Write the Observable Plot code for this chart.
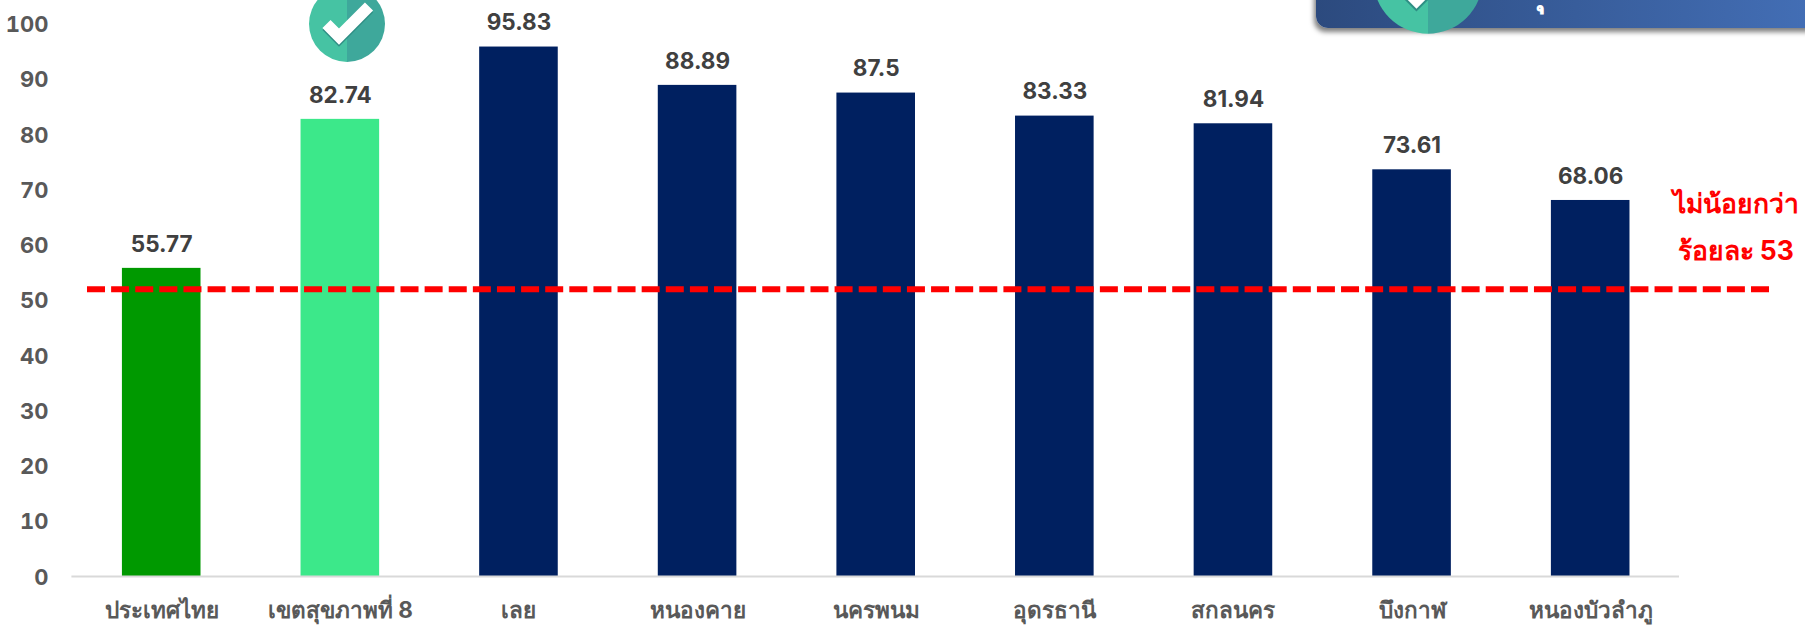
<!DOCTYPE html>
<html><head><meta charset="utf-8">
<script src="https://cdn.jsdelivr.net/npm/d3@7"></script>
<script src="https://cdn.jsdelivr.net/npm/@observablehq/plot@0.6"></script>
<style>
html,body{margin:0;padding:0;background:#fff;overflow:hidden}
#wrap{position:relative;width:1805px;height:635px;overflow:hidden}
#wrap svg{display:block}
#banner{position:absolute;left:1316px;top:-40px;width:520px;height:68px;border-radius:12px;background:linear-gradient(90deg,#2c4a7e,#4470b8);box-shadow:-2px 4px 5px rgba(0,0,0,.5)}
.font{font-family:Inter,"Noto Sans",sans-serif}
</style></head><body>
<div id="wrap" class="font"></div>
<script>
const categories = ["ประเทศไทย","เขตสุขภาพที่ 8","เลย","หนองคาย","นครพนม","อุดรธานี","สกลนคร","บึงกาฬ","หนองบัวลำภู"];
const values = [55.77,82.74,95.83,88.89,87.5,83.33,81.94,73.61,68.06];
const barColors = ["#009900","#3ce88a","#002060","#002060","#002060","#002060","#002060","#002060","#002060"];
const target = 52;
const noteLines = [{text:"ไม่น้อยกว่า",y:67.3},{text:"ร้อยละ 53",y:58.8}];
const table = categories.map((c,i)=>({c,v:values[i],color:barColors[i]}));
const font = 'Inter,"Noto Sans",sans-serif';
const chart = Plot.plot({
  width:1805,height:635,
  marginLeft:87,marginRight:36,marginTop:23.5,marginBottom:59,
  style:{fontFamily:font,background:"#fff",overflow:"hidden"},
  x:{domain:categories,range:[71.9,1679.5],paddingInner:0.56,paddingOuter:0.28,align:0.5,round:false,label:null},
  y:{domain:[0,100],label:null},
  marks:[
    Plot.barY(table,{x:"c",y:"v",fill:"color"}),
    Plot.ruleY([0],{stroke:"#d9d9d9",strokeWidth:2,insetLeft:-15.6,insetRight:90}),
    Plot.ruleY([target],{stroke:"#ff0000",strokeWidth:6,strokeDasharray:"18,6.116"}),
    Plot.text(table,{x:"c",y:"v",text:d=>String(d.v),dy:-24,fontSize:22.5,fontWeight:700,fill:"#404040"}),
    Plot.axisY({ticks:d3.range(0,101,10),tickSize:0,tickPadding:0,anchor:"left",dx:-39,dy:1,label:null,fontSize:22,fontWeight:700,fill:"#595959"}),
    Plot.axisX({tickSize:0,tickPadding:0,label:null,dy:26,fontSize:22.5,fontWeight:700,fill:"#595959"}),
    Plot.text(noteLines,{x:()=>categories[8],y:"y",text:"text",dx:145,fontSize:26.5,fontWeight:700,fill:"#ff0000"})
  ]
});
const wrap=document.getElementById("wrap");
wrap.appendChild(chart);
const banner=document.createElement("div");banner.id="banner";wrap.appendChild(banner);
function badge(cx,cy,r){
  const s=r/38;
  const check=`M${cx-20.5*s},${cy}L${cx-8*s},${cy+12.5*s}L${cx+22*s},${cy-17.5*s}`;
  return `<svg xmlns="http://www.w3.org/2000/svg" width="1805" height="635" style="position:absolute;left:0;top:0;pointer-events:none">
  <path d="M${cx},${cy-r}A${r},${r} 0 0 0 ${cx},${cy+r}Z" fill="#46c3a3"/>
  <path d="M${cx},${cy-r}A${r},${r} 0 0 1 ${cx},${cy+r}Z" fill="#3ea89b"/>
  <path d="${check}" transform="translate(0,${2*s})" fill="none" stroke="#2f8f85" stroke-width="${11.5*s}"/>
  <path d="${check}" fill="none" stroke="#fff" stroke-width="${11.5*s}"/></svg>`;
}
wrap.insertAdjacentHTML("beforeend",badge(347,24,38));
wrap.insertAdjacentHTML("beforeend",badge(1428,-21,54.7));
const mark=document.createElement("div");
mark.textContent="\u00a0ุ";
mark.style.cssText="position:absolute;left:1535px;top:-40px;color:#fff;font-size:38px;font-weight:700";
wrap.appendChild(mark);
</script></body></html>
